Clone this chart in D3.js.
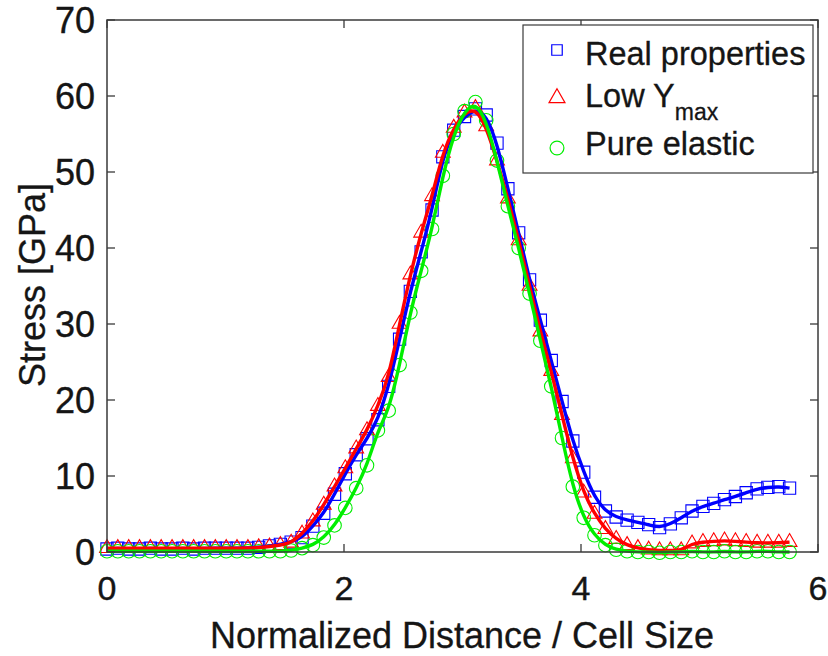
<!DOCTYPE html>
<html>
<head>
<meta charset="utf-8">
<script src="https://cdn.jsdelivr.net/npm/d3@7"></script>
<style>
  html, body { margin: 0; padding: 0; background: #fff; }
  svg { display: block; font-family: "Liberation Sans", Arial, Helvetica, sans-serif; }
</style>
</head>
<body>
<svg id="chart" width="828" height="656"></svg>
<script>
// ---- data ----
const distance = [0.000,0.091,0.183,0.274,0.366,0.457,0.549,0.640,0.731,0.823,
  0.914,1.006,1.097,1.189,1.280,1.371,1.463,1.554,1.646,1.737,
  1.829,1.920,2.011,2.103,2.194,2.286,2.377,2.469,2.560,2.651,
  2.743,2.834,2.926,3.017,3.109,3.200,3.291,3.383,3.474,3.566,
  3.657,3.749,3.840,3.931,4.023,4.114,4.206,4.297,4.389,4.480,
  4.571,4.663,4.754,4.846,4.937,5.029,5.120,5.211,5.303,5.394,
  5.486,5.577,5.669,5.760];

const realProperties = [0.4,0.5,0.4,0.4,0.5,0.4,0.4,0.5,0.4,0.5,
  0.5,0.5,0.5,0.5,0.6,0.8,1.0,1.3,1.9,3.4,
  5.1,7.6,10.3,12.8,14.9,17.4,21.8,28.0,34.3,39.5,
  45.0,52.0,55.5,57.3,58.3,57.5,53.8,47.8,42.0,35.8,
  30.5,25.2,19.8,14.6,10.5,7.2,5.4,4.6,4.2,3.9,
  3.6,3.2,3.7,4.5,5.4,6.0,6.4,6.9,7.3,7.8,
  8.3,8.5,8.6,8.4];

const lowYmax = [0.5,0.5,0.5,0.5,0.5,0.5,0.5,0.5,0.5,0.5,
  0.5,0.5,0.5,0.5,0.6,0.7,0.9,1.2,2.4,4.0,
  6.2,8.6,11.0,13.6,16.0,19.2,23.0,30.0,36.5,42.0,
  46.8,52.5,55.8,57.8,58.4,56.0,51.5,46.5,41.0,35.0,
  29.0,23.8,18.0,12.3,7.8,5.0,3.0,1.7,0.9,0.5,
  0.3,0.2,0.2,0.2,1.1,1.3,1.4,1.5,1.4,1.3,
  1.2,1.2,1.2,1.3];

const pureElastic = [0.1,0.1,0.1,0.1,0.1,0.1,0.1,0.1,0.1,0.1,
  0.1,0.1,0.1,0.1,0.1,0.1,0.1,0.2,0.5,0.9,
  1.9,3.5,5.8,8.4,11.4,16.0,18.6,24.6,31.5,37.0,
  42.5,49.5,55.0,58.0,59.2,56.8,51.5,45.5,40.0,34.0,
  27.8,21.8,15.0,8.6,4.5,2.2,0.9,0.3,0.1,0.0,
  0.0,-0.1,0.0,0.0,0.1,0.0,0.0,0.1,0.0,0.0,
  0.1,0.1,0.0,0.0];

const seriesNames = ["Real properties", "Low Y", "Pure elastic"];
const xTicks = [0, 2, 4, 6];
const yTicks = [0, 10, 20, 30, 40, 50, 60, 70];

// ---- layout ----
(function () {
const svg = d3.select("#chart");
const pL = 107, pR = 818, pT = 20, pB = 552;
const x = d3.scaleLinear().domain([0, 6]).range([pL, pR]);
const y = d3.scaleLinear().domain([0, 70]).range([pB, pT]);
const ink = "#151515";

const series = [
  { name: seriesNames[0], values: realProperties, color: "#0000ff", symbol: d3.symbolSquare, size: 150 },
  { name: seriesNames[1], values: lowYmax, color: "#ff0000", symbol: d3.symbolTriangle, size: 95 },
  { name: seriesNames[2], values: pureElastic, color: "#00ee00", symbol: d3.symbolCircle, size: 145 }
];

svg.append("rect").attr("x", 0).attr("y", 0).attr("width", 828).attr("height", 656).attr("fill", "#fff");

// markers
series.forEach(s => {
  svg.append("g").selectAll("path")
    .data(distance.map((d, i) => [d, s.values[i]]))
    .join("path")
    .attr("transform", d => `translate(${x(d[0])},${y(d[1])})`)
    .attr("d", d3.symbol().type(s.symbol).size(s.size))
    .attr("fill", "none")
    .attr("stroke", s.color)
    .attr("stroke-width", 1.1);
});

// lines
const line = d3.line().x(d => x(d[0])).y(d => y(d[1])).curve(d3.curveBasis);
series.forEach(s => {
  svg.append("path")
    .datum(distance.map((d, i) => [d, s.values[i]]))
    .attr("d", line)
    .attr("fill", "none")
    .attr("stroke", s.color)
    .attr("stroke-width", 3.4)
    .attr("stroke-linejoin", "round");
});

// axes box
const axisColor = "#3a3a3a";
svg.append("rect").attr("x", pL).attr("y", pT).attr("width", pR - pL).attr("height", pB - pT)
  .attr("fill", "none").attr("stroke", axisColor).attr("stroke-width", 1.5);

const tickLen = 8;
const tg = svg.append("g").attr("stroke", axisColor).attr("stroke-width", 1.3);
xTicks.forEach(t => {
  tg.append("line").attr("x1", x(t)).attr("x2", x(t)).attr("y1", pB).attr("y2", pB - tickLen);
  tg.append("line").attr("x1", x(t)).attr("x2", x(t)).attr("y1", pT).attr("y2", pT + tickLen);
});
yTicks.forEach(t => {
  tg.append("line").attr("x1", pL).attr("x2", pL + tickLen).attr("y1", y(t)).attr("y2", y(t));
  tg.append("line").attr("x1", pR).attr("x2", pR - tickLen).attr("y1", y(t)).attr("y2", y(t));
});

// tick labels
svg.append("g").selectAll("text").data(xTicks).join("text")
  .attr("x", d => x(d)).attr("y", 600)
  .attr("text-anchor", "middle").attr("font-size", 34).attr("fill", ink)
  .attr("stroke", ink).attr("stroke-width", 0.4)
  .text(d => d);
svg.append("g").selectAll("text").data(yTicks).join("text")
  .attr("x", 95).attr("y", d => y(d) + 13)
  .attr("text-anchor", "end").attr("font-size", 36).attr("fill", ink)
  .attr("stroke", ink).attr("stroke-width", 0.4)
  .text(d => d);

// axis titles
svg.append("text").attr("x", 462).attr("y", 648).attr("text-anchor", "middle")
  .attr("font-size", 36).attr("fill", ink).attr("stroke", ink).attr("stroke-width", 0.3)
  .text("Normalized Distance / Cell Size");
svg.append("text").attr("transform", "translate(32,285) rotate(-90)").attr("text-anchor", "middle")
  .attr("dy", "0.36em").attr("font-size", 36).attr("fill", ink).attr("stroke", ink).attr("stroke-width", 0.3)
  .text("Stress [GPa]");

// legend
const lg = svg.append("g");
lg.append("rect").attr("x", 523).attr("y", 25).attr("width", 290).attr("height", 148)
  .attr("fill", "#fff").attr("stroke", axisColor).attr("stroke-width", 1.2);
const legY = [50, 98, 148];
const textY = [65, 107, 155];
series.forEach((s, i) => {
  lg.append("path").attr("transform", `translate(557,${legY[i]})`)
    .attr("d", d3.symbol().type(s.symbol).size(i === 2 ? 150 : 110))
    .attr("fill", "none").attr("stroke", s.color).attr("stroke-width", 1.2);
  const t = lg.append("text").attr("x", 585).attr("y", textY[i]).attr("font-size", 32.5)
    .attr("fill", ink).attr("stroke", ink).attr("stroke-width", 0.3);
  t.append("tspan").text(s.name);
  if (i === 1) {
    t.append("tspan").attr("dy", 13).attr("font-size", 23).text("max");
  }
});
})();
</script>
</body>
</html>
